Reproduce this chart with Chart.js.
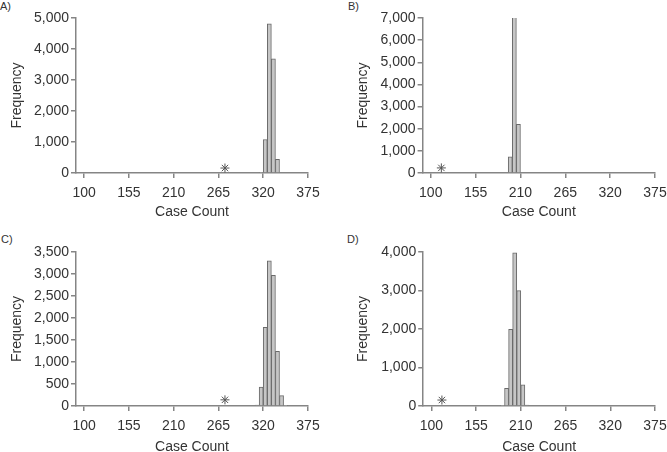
<!DOCTYPE html>
<html>
<head>
<meta charset="utf-8">
<script src="https://cdn.jsdelivr.net/npm/chart.js@4.4.1/dist/chart.umd.min.js"></script>
<style>
  body { margin: 0; background: #fff; width: 667px; height: 452px; position: relative; overflow: hidden;
         font-family: "Liberation Sans", Arial, sans-serif; }
  canvas { position: absolute; }
  .lab { position: absolute; font-size: 11px; line-height: 11px; color: #333; }
</style>
</head>
<body>
<div class="lab" style="left:0px;top:1px">A)</div>
<div class="lab" style="left:348px;top:1px">B)</div>
<div class="lab" style="left:1px;top:234px">C)</div>
<div class="lab" style="left:347px;top:234px">D)</div>

<canvas id="cA" style="left:0;top:0" width="333" height="226"></canvas>
<canvas id="cB" style="left:333px;top:0" width="334" height="226"></canvas>
<canvas id="cC" style="left:0;top:226px" width="333" height="226"></canvas>
<canvas id="cD" style="left:333px;top:226px" width="334" height="226"></canvas>

<script>
// x tick labels shared by all four panels
const xTicks = [100, 155, 210, 265, 320, 375];

// histogram bins (bin centres, width 5) and frequencies
const binsA = [317.5, 322.5, 327.5, 332.5, 337.5];
const countsA = [15, 1080, 4810, 3680, 440];

const binsB = [197.5, 202.5, 207.5];
const countsB = [730, 7060, 2200];

const binsC = [312.5, 317.5, 322.5, 327.5, 332.5, 337.5, 342.5, 347.5];
const countsC = [20, 430, 1790, 3300, 2970, 1245, 235, 15];

const binsD = [187.5, 192.5, 197.5, 202.5, 207.5, 212.5, 217.5];
const countsD = [15, 460, 1990, 3980, 2995, 550, 25];

// asterisk markers (observed value) for A, B, C, D
const markX = [273, 113, 273, 113];
const markY = [160, 230, 140, 155];

// y axis ranges
const yMaxes = [5000, 7000, 3500, 4000];
const ySteps = [1000, 1000, 500, 1000];

const axisGray = "#858585";
const textGray = "#333";
const font = { family: "'Liberation Sans', Arial, sans-serif", size: 14 };

function makeChart(id, bins, counts, mx, my, yMax, yStep, box) {
  new Chart(document.getElementById(id), {
    type: "bar",
    data: {
      datasets: [{
        type: "bar",
        data: bins.map((b, i) => ({ x: b, y: counts[i] })),
        backgroundColor: "#c6c6c6",
        borderColor: "#6a6a6a",
        borderWidth: 1,
        barPercentage: 1,
        categoryPercentage: 1
      }, {
        type: "scatter",
        data: [{ x: mx, y: my }],
        pointStyle: "star",
        pointRadius: 4.5,
        borderColor: "#555",
        backgroundColor: "#555",
        borderWidth: 1
      }]
    },
    options: {
      responsive: false,
      animation: false,
      layout: { padding: { left: box.padL, right: box.padR, top: box.padT, bottom: 0 } },
      plugins: { legend: { display: false }, tooltip: { enabled: false } },
      scales: {
        x: {
          type: "linear",
          offset: false,
          min: 90,
          max: 375,
          grid: { offset: false, drawOnChartArea: false, drawTicks: true, tickLength: 5, color: axisGray, lineWidth: 1.5 },
          border: { display: true, color: axisGray, width: 1.5 },
          ticks: { font: font, color: textGray, padding: 7, maxRotation: 0, autoSkip: false },
          afterBuildTicks: s => { s.ticks = xTicks.map(v => ({ value: v })); },
          afterFit: s => { s.height = box.xHeight; s.paddingLeft = 0; s.paddingRight = 0; },
          title: { display: true, text: "Case Count", font: font, color: textGray,
                   padding: { top: 0, bottom: box.xTitlePad } }
        },
        y: {
          min: 0,
          max: yMax,
          grid: { drawOnChartArea: false, drawTicks: true, tickLength: 5, color: axisGray, lineWidth: 1.5 },
          border: { display: true, color: axisGray, width: 1.5 },
          ticks: { stepSize: yStep, font: font, color: textGray, padding: 2 },
          afterFit: s => { s.width = box.yWidth; s.paddingTop = 0; s.paddingBottom = 0; },
          title: { display: true, text: "Frequency", font: font, color: textGray,
                   padding: { top: box.yTitlePad, bottom: 0 } }
        }
      }
    }
  });
}

makeChart("cA", binsA, countsA, markX[0], markY[0], yMaxes[0], ySteps[0],
  { padL: 0, padR: 25, padT: 18, yWidth: 76, xHeight: 53, yTitlePad: 9, xTitlePad: 5.6 });
makeChart("cB", binsB, countsB, markX[1], markY[1], yMaxes[1], ySteps[1],
  { padL: 12, padR: 12, padT: 18, yWidth: 77.6, xHeight: 53, yTitlePad: 9.9, xTitlePad: 5.9 });
makeChart("cC", binsC, countsC, markX[2], markY[2], yMaxes[2], ySteps[2],
  { padL: 0, padR: 25, padT: 26, yWidth: 76, xHeight: 46, yTitlePad: 8.3, xTitlePad: -3.1 });
makeChart("cD", binsD, countsD, markX[3], markY[3], yMaxes[3], ySteps[3],
  { padL: 12, padR: 12, padT: 26, yWidth: 78.2, xHeight: 46, yTitlePad: 9.9, xTitlePad: -3.1 });
</script>
</body>
</html>
